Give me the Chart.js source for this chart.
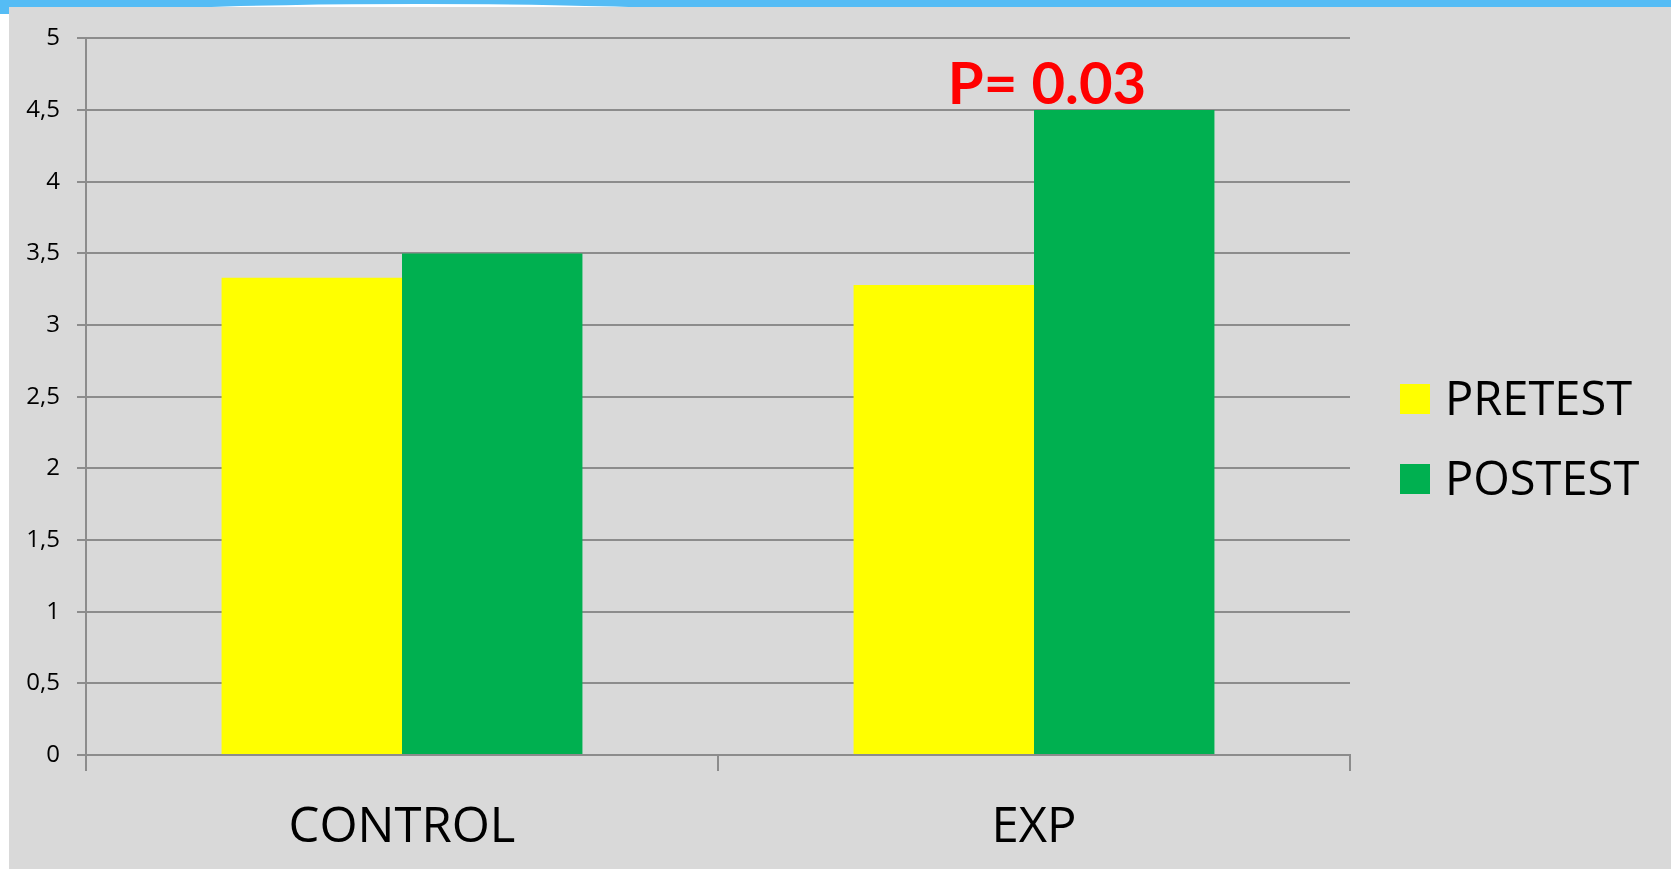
<!DOCTYPE html>
<html>
<head>
<meta charset="utf-8">
<script src="https://cdn.jsdelivr.net/npm/chart.js@4.4.0/dist/chart.umd.min.js"></script>
<style>
  html, body { margin: 0; padding: 0; background: #fff; }
  #band { position: absolute; left: 0; top: 0; width: 1671px; height: 7px; background: #55bcf5; }
  #bandEdge { position: absolute; left: 0; top: 7px; width: 9px; height: 7px; background: #55bcf5; }
  #swoosh { position: absolute; left: 70px; top: 4px; width: 700px; height: 30px; border-radius: 50%; background: #fff; }
  #wrap { position: absolute; left: 9px; top: 7px; width: 1662px; height: 862px; background: #d9d9d9; }
</style>
</head>
<body>
<div id="band"></div>
<div id="bandEdge"></div>
<div id="swoosh"></div>
<div id="wrap"><canvas id="chart" width="1662" height="862"></canvas></div>
<script>
// data
var categories = ['CONTROL', 'EXP'];
var pretest = [3.33, 3.28];
var postest = [3.5, 4.5];
var yTickLabels = ['0', '0,5', '1', '1,5', '2', '2,5', '3', '3,5', '4', '4,5', '5'];
var pValueText = 'P= 0.03';

var gridGrey = '#8c8c8c';

// legend drawn by hand so it sits where the original has it
var sideLegend = {
    id: 'sideLegend',
    afterDraw: function(chart) {
        var ctx = chart.ctx;
        ctx.save();
        ctx.font = '47px "Open Sans"';
        ctx.textBaseline = 'alphabetic';
        ctx.textAlign = 'left';
        chart.data.datasets.forEach(function(ds, i) {
            var top = 377 + i * 80;
            ctx.fillStyle = ds.backgroundColor;
            ctx.fillRect(1391, top, 30, 30);
            ctx.fillStyle = '#000';
            ctx.fillText(ds.label, 1436, top + 31);
        });
        ctx.restore();
    }
};

// the red p-value above the EXP postest bar
var pLabel = {
    id: 'pLabel',
    afterDatasetsDraw: function(chart) {
        var ctx = chart.ctx;
        var x = chart.scales.x.getPixelForValue(1) + 13;
        var y = chart.scales.y.getPixelForValue(postest[1]) - 6;
        ctx.save();
        ctx.font = 'bold 58px Lato';
        ctx.fillStyle = '#ff0000';
        ctx.textAlign = 'center';
        ctx.textBaseline = 'alphabetic';
        ctx.fillText(pValueText, x, y);
        ctx.restore();
    }
};

var ctx = document.getElementById('chart').getContext('2d');
var chart = new Chart(ctx, {
    type: 'bar',
    data: {
        labels: categories,
        datasets: [{
            label: 'PRETEST',
            data: pretest,
            backgroundColor: '#ffff00',
            borderWidth: 0,
            categoryPercentage: 0.571,
            barPercentage: 1.0
        }, {
            label: 'POSTEST',
            data: postest,
            backgroundColor: '#00b050',
            borderWidth: 0,
            categoryPercentage: 0.571,
            barPercentage: 1.0
        }]
    },
    options: {
        responsive: false,
        animation: false,
        devicePixelRatio: 1,
        layout: { padding: { top: 29, right: 321, left: 0, bottom: 0 } },
        plugins: {
            legend: { display: false },
            tooltip: { enabled: false }
        },
        scales: {
            x: {
                grid: {
                    drawOnChartArea: false,
                    drawTicks: true,
                    tickLength: 16,
                    color: gridGrey,
                    lineWidth: 2
                },
                border: { display: true, color: gridGrey, width: 2 },
                ticks: {
                    color: '#000',
                    padding: 28,
                    font: { family: 'Open Sans', size: 49 }
                },
                afterFit: function(scale) { scale.height = 114; }
            },
            y: {
                min: 0,
                max: 5,
                grid: {
                    color: gridGrey,
                    lineWidth: 2,
                    tickLength: 9
                },
                border: { display: true, color: gridGrey, width: 2 },
                ticks: {
                    stepSize: 0.5,
                    color: '#000',
                    padding: 17,
                    font: { family: 'Open Sans', size: 24 },
                    callback: function(value, index) { return yTickLabels[index]; }
                },
                afterFit: function(scale) { scale.width = 77; }
            }
        }
    },
    plugins: [pLabel, sideLegend]
});
</script>
</body>
</html>
